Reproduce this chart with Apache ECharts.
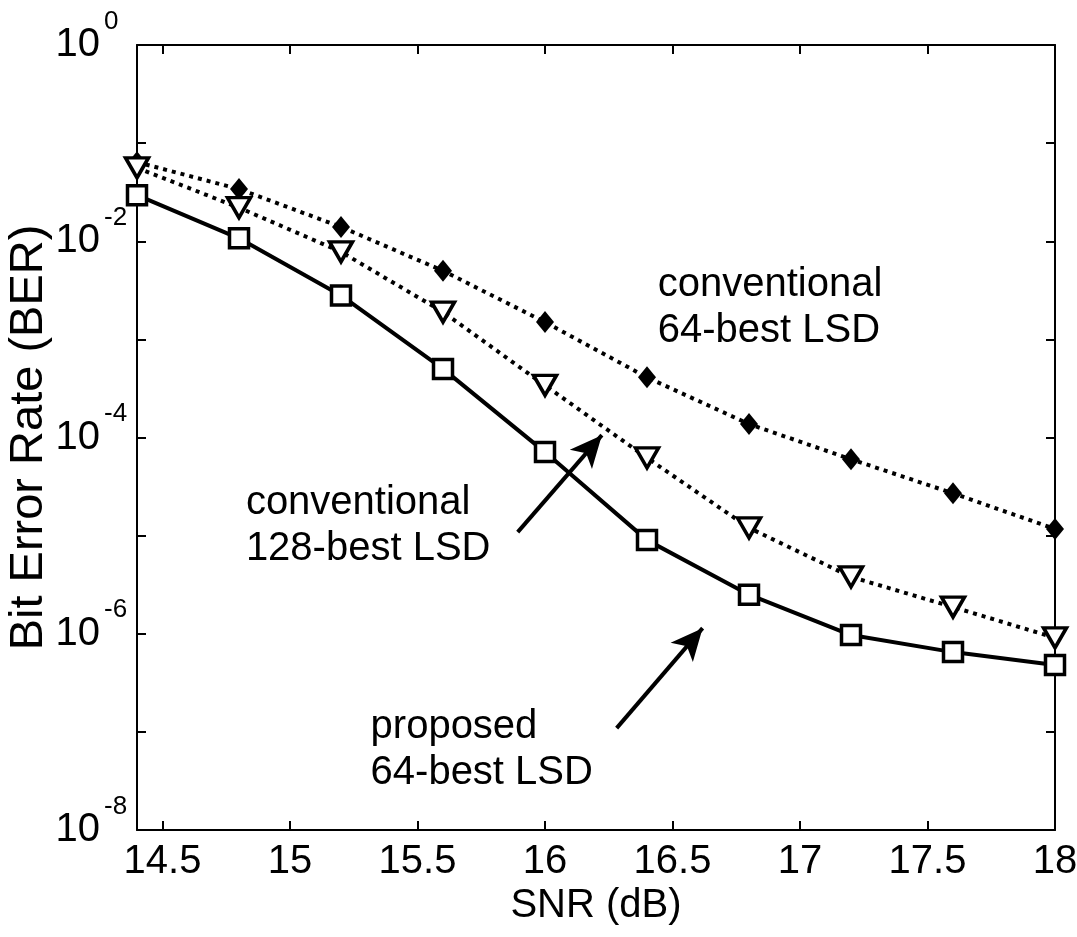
<!DOCTYPE html>
<html>
<head>
<meta charset="utf-8">
<script src="https://cdn.jsdelivr.net/npm/echarts@6/dist/echarts.min.js"></script>
<style>html,body{margin:0;padding:0;background:#fff;}#c{width:1077px;height:937px;}</style>
</head>
<body>
<div id="c"></div>
<script>
const snr = [14.4, 14.8, 15.2, 15.6, 16.0, 16.4, 16.8, 17.2, 17.6, 18.0];
const conv64 = [6.4e-2, 3.4e-2, 1.4e-2, 5.0e-3, 1.5e-3, 4.1e-4, 1.37e-4, 6.0e-5, 2.7e-5, 1.17e-5];
const conv128 = [5.6e-2, 2.2e-2, 7.8e-3, 1.9e-3, 3.4e-4, 6.2e-5, 1.2e-5, 3.8e-6, 1.87e-6, 9.1e-7];
const proposed64 = [2.95e-2, 1.07e-2, 2.8e-3, 5.0e-4, 7.1e-5, 9.0e-6, 2.5e-6, 9.7e-7, 6.5e-7, 4.8e-7];
const xTicks = [14.5, 15, 15.5, 16, 16.5, 17, 17.5, 18];
const xLabels = ['14.5', '15', '15.5', '16', '16.5', '17', '17.5', '18'];
const yMinExp = -8, yMaxExp = 0;
const annotations = [
  {text: 'conventional\n64-best LSD', x: 16.44, y: Math.pow(10, -2.68)},
  {text: 'conventional\n128-best LSD', x: 14.825, y: Math.pow(10, -4.90)},
  {text: 'proposed\n64-best LSD', x: 15.314, y: Math.pow(10, -7.18)}
];
const arrows = [
  {from: [15.893, Math.pow(10, -4.964)], to: [16.223, Math.pow(10, -3.976)]},
  {from: [16.281, Math.pow(10, -6.962)], to: [16.618, Math.pow(10, -5.943)]}
];

const FONT = 'Liberation Sans, Arial, sans-serif';
const pair = arr => snr.map((x, i) => [x, arr[i]]);
const expOf = v => Math.round(Math.log10(v));

const chart = echarts.init(document.getElementById('c'));
const baseX = {
  type: 'value', min: 14.4, max: 18,
  axisLine: {show: true, onZero: false, lineStyle: {color: '#000', width: 2}},
  splitLine: {show: false}
};
const baseY = {
  type: 'log', logBase: 10, min: Math.pow(10, yMinExp), max: Math.pow(10, yMaxExp), interval: 1,
  axisLine: {show: true, onZero: false, lineStyle: {color: '#000', width: 2}},
  splitLine: {show: false}, minorTick: {show: false}
};
const labelStyle = {
  show: true, position: 'right', distance: 0, align: 'left', verticalAlign: 'middle',
  fontFamily: FONT, fontSize: 40, lineHeight: 46, color: '#000', opacity: 1,
  textBorderWidth: 0
};
const option = {
  backgroundColor: '#fff',
  animation: false,
  grid: {left: 137, top: 45, right: 22, bottom: 107, containLabel: false, outerBoundsMode: 'none'},
  xAxis: [
    Object.assign({}, baseX, {
      position: 'bottom',
      name: 'SNR (dB)', nameLocation: 'middle', nameGap: 56, nameMoveOverlap: false,
      nameTextStyle: {fontFamily: FONT, fontSize: 40, color: '#000'},
      axisTick: {show: true, inside: true, length: 9, customValues: xTicks, lineStyle: {color: '#000', width: 2}},
      axisLabel: {show: true, customValues: xTicks, margin: 12, fontFamily: FONT, fontSize: 40, color: '#000',
        formatter: v => xLabels[xTicks.findIndex(t => Math.abs(t - v) < 1e-6)] || ''}
    }),
    Object.assign({}, baseX, {
      position: 'top',
      axisTick: {show: true, inside: true, length: 9, customValues: xTicks, lineStyle: {color: '#000', width: 2}},
      axisLabel: {show: false}
    })
  ],
  yAxis: [
    Object.assign({}, baseY, {
      position: 'left',
      name: 'Bit Error Rate (BER)', nameLocation: 'middle', nameGap: 84, nameMoveOverlap: false,
      nameTextStyle: {fontFamily: FONT, fontSize: 47, color: '#000'},
      axisTick: {show: true, inside: true, length: 9, lineStyle: {color: '#000', width: 2}},
      axisLabel: {show: true, margin: 37, fontFamily: FONT, fontSize: 40, color: '#000',
        formatter: v => (expOf(v) % 2 === 0 ? '10' : '')}
    }),
    Object.assign({}, baseY, {
      position: 'right',
      axisTick: {show: true, inside: true, length: 9, lineStyle: {color: '#000', width: 2}},
      axisLabel: {show: false}
    }),
    Object.assign({}, baseY, {
      position: 'left',
      axisLine: {show: false}, axisTick: {show: false},
      axisLabel: {show: true, margin: 33, align: 'left', verticalAlign: 'middle',
        fontFamily: FONT, fontSize: 26, lineHeight: 47, color: '#000',
        formatter: v => (expOf(v) % 2 === 0 ? String(expOf(v)) + '\n\u00a0' : '')}
    })
  ],
  series: [
    {
      name: 'conventional 64-best LSD', type: 'line', data: pair(conv64),
      symbol: 'diamond', symbolSize: [18, 22],
      lineStyle: {color: '#000', width: 4, type: [4, 5]},
      itemStyle: {color: '#000', borderColor: '#000', borderWidth: 0},
      z: 3
    },
    {
      name: 'conventional 128-best LSD', type: 'line', data: pair(conv128),
      symbol: 'triangle', symbolRotate: 180, symbolSize: [23, 20],
      lineStyle: {color: '#000', width: 4, type: [4, 5]},
      itemStyle: {color: '#fff', borderColor: '#000', borderWidth: 3.5},
      z: 4
    },
    {
      name: 'proposed 64-best LSD', type: 'line', data: pair(proposed64),
      symbol: 'rect', symbolSize: 19,
      lineStyle: {color: '#000', width: 4},
      itemStyle: {color: '#fff', borderColor: '#000', borderWidth: 3.5},
      z: 5,
      markLine: {
        silent: true, symbol: ['none', 'arrow'], symbolSize: [22, 32],
        label: {show: false},
        lineStyle: {color: '#000', width: 4, type: 'solid'},
        data: arrows.map(a => [{coord: a.from}, {coord: a.to}])
      }
    },
    {
      name: 'annotations', type: 'scatter', symbol: 'circle', symbolSize: 1,
      itemStyle: {color: 'rgba(0,0,0,0)'},
      data: annotations.map(a => ({value: [a.x, a.y], label: Object.assign({}, labelStyle, {formatter: a.text})})),
      label: labelStyle,
      labelLayout: {hideOverlap: false},
      silent: true, z: 6
    }
  ]
};
chart.setOption(option);
</script>
</body>
</html>
